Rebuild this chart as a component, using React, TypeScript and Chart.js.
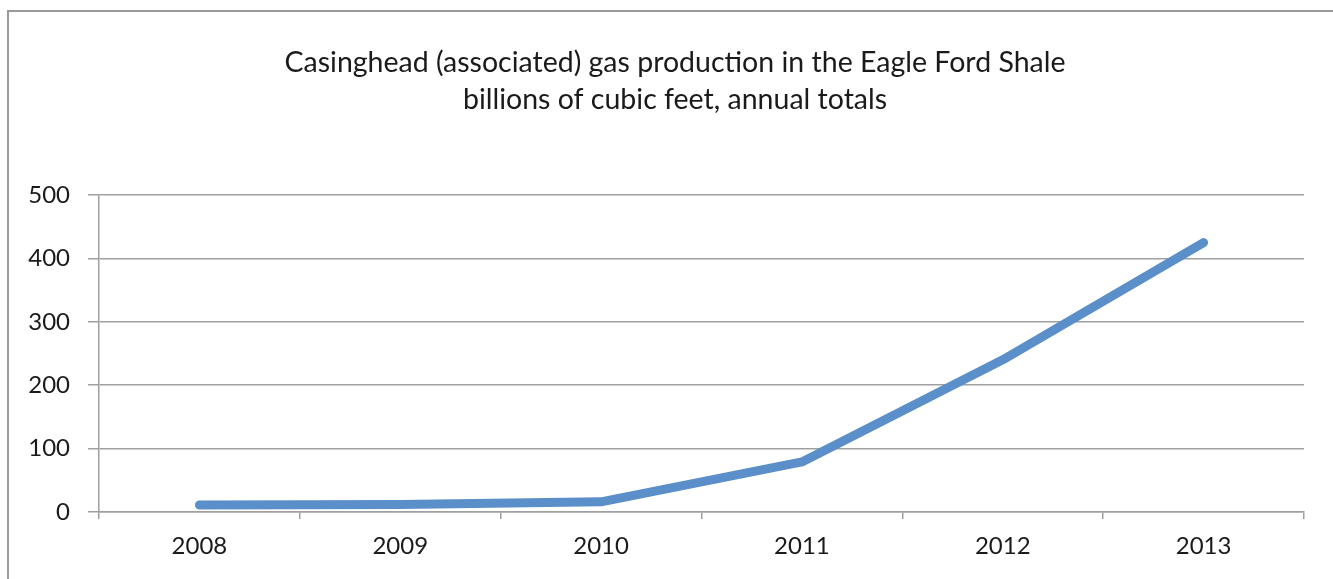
import React, { useEffect, useRef } from "react";
import { Chart, registerables } from "chart.js";

Chart.register(...registerables);

const years = ["2008", "2009", "2010", "2011", "2012", "2013"];
const gasBcf = [11, 12, 16, 79, 240, 425];
const yTicks = [0, 100, 200, 300, 400, 500];
const titleLines = [
  "Casinghead (associated) gas production in the Eagle Ford Shale",
  "billions of cubic feet, annual totals",
];

const framePlugin = {
  id: "frame",
  beforeDraw(chart: any) {
    const ctx = chart.ctx;
    ctx.save();
    ctx.fillStyle = "#ffffff";
    ctx.fillRect(0, 0, chart.width, chart.height);
    ctx.strokeStyle = "#9a9a9a";
    ctx.lineWidth = 2;
    ctx.strokeRect(8, 11, chart.width + 40, chart.height + 40);
    ctx.fillStyle = "#1a1a1a";
    ctx.font = "normal 28.5px Lato";
    ctx.textAlign = "center";
    ctx.textBaseline = "middle";
    const cx = 675;
    titleLines.forEach((line, i) => {
      ctx.fillText(line, cx, 63 + i * 37);
    });
    ctx.restore();
  },
};

export default function App() {
  const ref = useRef<HTMLCanvasElement | null>(null);

  useEffect(() => {
    document.body.style.margin = "0";
    if (!ref.current) return;
    const chart = new Chart(ref.current, {
      type: "line",
      data: {
        labels: years,
        datasets: [
          {
            data: gasBcf,
            borderColor: "#5a8fca",
            borderWidth: 9,
            borderCapStyle: "round",
            borderJoinStyle: "round",
            pointRadius: 0,
            fill: false,
            tension: 0,
          },
        ],
      },
      plugins: [framePlugin],
      options: {
        animation: false,
        responsive: false,
        maintainAspectRatio: false,
        layout: { padding: { left: 0, right: 29, top: 195, bottom: 0 } },
        plugins: {
          legend: { display: false },
          tooltip: { enabled: false },
          title: { display: false },
        },
        scales: {
          x: {
            offset: true,
            grid: {
              display: true,
              offset: true,
              drawOnChartArea: false,
              drawTicks: true,
              tickLength: 7,
              color: "#a0a0a0",
              lineWidth: 1.5,
            },
            border: { display: true, color: "#a0a0a0", width: 1.5 },
            ticks: {
              color: "#1a1a1a",
              font: { family: "Lato", size: 24 },
              padding: 13,
              maxRotation: 0,
            },
            afterFit(scale: any) {
              scale.height = 67;
            },
          },
          y: {
            min: 0,
            max: 500,
            afterBuildTicks(scale: any) {
              scale.ticks = yTicks.map((v) => ({ value: v }));
            },
            grid: {
              display: true,
              drawTicks: true,
              tickLength: 11,
              color: "#a0a0a0",
              lineWidth: 1.5,
            },
            border: { display: true, color: "#a0a0a0", width: 1.5 },
            ticks: {
              color: "#1a1a1a",
              font: { family: "Lato", size: 24 },
              padding: 18,
            },
            afterFit(scale: any) {
              scale.width = 99;
            },
          },
        },
      },
    });
    return () => chart.destroy();
  }, []);

  return (
    <div style={{ width: 1333, height: 579, overflow: "hidden" }}>
      <canvas ref={ref} width={1333} height={579} style={{ display: "block" }} />
    </div>
  );
}
